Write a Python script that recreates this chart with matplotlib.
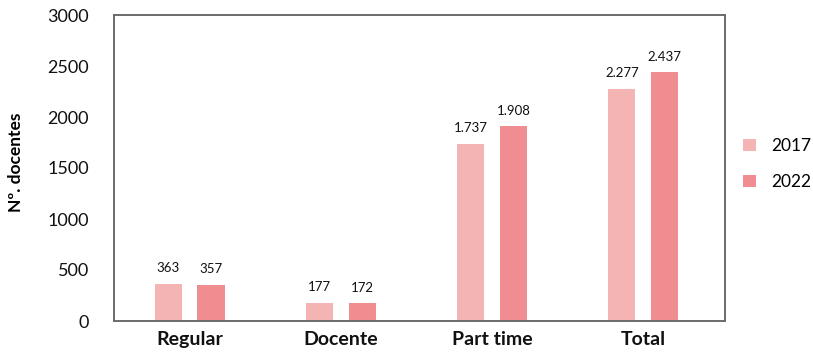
import matplotlib
matplotlib.use("Agg")
import matplotlib.pyplot as plt
import numpy as np

categories = ["Regular", "Docente", "Part time", "Total"]
years = ["2017", "2022"]
values_2017 = [363, 177, 1737, 2277]
values_2022 = [357, 172, 1908, 2437]
y_ticks = [0, 500, 1000, 1500, 2000, 2500, 3000]

colors = ["#f4b4b4", "#f08d90"]

plt.rcParams["font.family"] = ["Lato", "DejaVu Sans"]

W, H = 813, 359
fig = plt.figure(figsize=(W / 100, H / 100), dpi=100)
ax = fig.add_axes([114 / W, 1 - 321 / H, (725 - 114) / W, (321 - 15) / H])

x = np.arange(len(categories))
w = 0.18
off = 0.142


def fmt(v):
    return f"{v:,}".replace(",", ".")


for vals, dx, col, lab in [(values_2017, -off, colors[0], years[0]),
                           (values_2022, off, colors[1], years[1])]:
    bars = ax.bar(x + dx, vals, width=w, color=col, label=lab)
    for b, v in zip(bars, vals):
        ax.text(b.get_x() + b.get_width() / 2, v + 95, fmt(v),
                ha="center", va="bottom", fontsize=9.5, color="#111111")

ax.set_xlim(-0.5, 3.54)
ax.set_ylim(0, 3000)
ax.set_yticks(y_ticks)
ax.set_yticklabels([str(t) for t in y_ticks], fontsize=13)
ax.set_xticks(x)
ax.set_xticklabels(categories, fontsize=14, fontweight="bold")
ax.tick_params(axis="both", length=0, colors="#111111")
ax.tick_params(axis="y", pad=18)
ax.tick_params(axis="x", pad=7)

for s in ax.spines.values():
    s.set_color("#6b6b6b")
    s.set_linewidth(1.4)

ax.set_ylabel("Nº. docentes", fontsize=12.5, fontweight="bold")
ax.yaxis.set_label_coords(-90 / 611, 0.52)

leg = fig.legend(loc="center left", bbox_to_anchor=(743 / W, 1 - 164 / H),
                 frameon=False, fontsize=12.5, handlelength=0.75,
                 handleheight=0.75, handletextpad=0.9, labelspacing=1.15,
                 borderpad=0, borderaxespad=0)

fig.savefig("out.png", dpi=100)
